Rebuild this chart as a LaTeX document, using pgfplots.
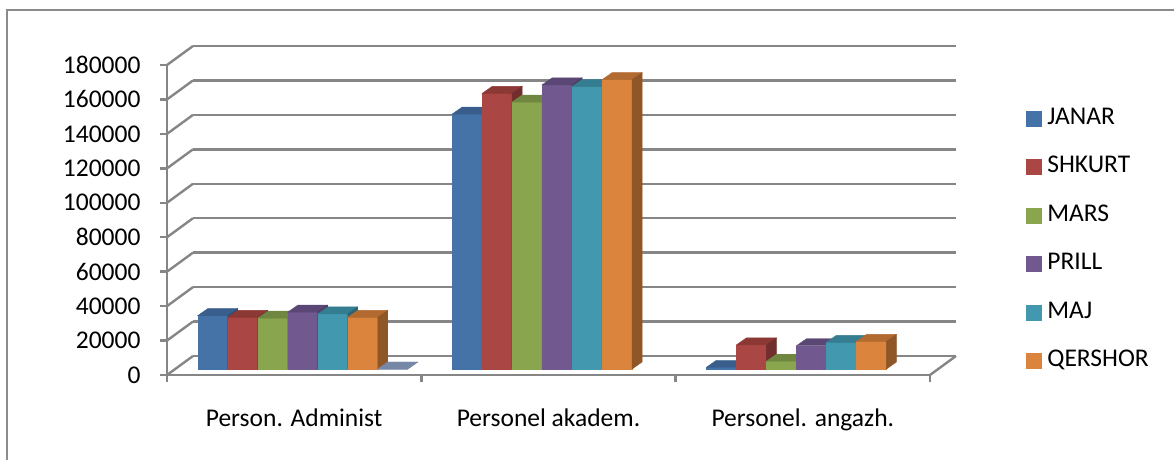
\documentclass[border=0pt]{standalone}
\usepackage{pgfplots}
\usepackage{pgfplotstable}
\pgfplotsset{compat=1.18}
\usepackage{fontspec}
\setmainfont{Carlito}

\definecolor{gridgray}{HTML}{868686}
\definecolor{framegray}{HTML}{8C8C8C}
\definecolor{janarF}{HTML}{4572A7}\definecolor{janarT}{HTML}{395E8C}\definecolor{janarS}{HTML}{2F4D74}
\definecolor{shkurtF}{HTML}{AA4643}\definecolor{shkurtT}{HTML}{8C3936}\definecolor{shkurtS}{HTML}{722E2C}
\definecolor{marsF}{HTML}{89A54E}\definecolor{marsT}{HTML}{6F8740}\definecolor{marsS}{HTML}{5B6E33}
\definecolor{prillF}{HTML}{71588F}\definecolor{prillT}{HTML}{5B4775}\definecolor{prillS}{HTML}{4B3A5F}
\definecolor{majF}{HTML}{4198AF}\definecolor{majT}{HTML}{357D90}\definecolor{majS}{HTML}{2B6574}
\definecolor{qershorF}{HTML}{DB843D}\definecolor{qershorT}{HTML}{B26A31}\definecolor{qershorS}{HTML}{8F5628}
\definecolor{extraT}{HTML}{7688A6}

% staff counts per month, one row per category
\pgfplotstableread{
cat janar  shkurt mars   prill  maj    qershor
0   31000  30000  29500  33000  32000  30000
1   148000 160000 155000 165000 164000 168000
2   1000   14000  4500   13500  15500  16000
}\staff
\pgfplotstableread{
cat extra
0   0
}\extra

\pgfdeclareplotmark{empty}{}

\tikzset{
  chartfont/.style={font=\fontsize{25.6}{30}\selectfont},
  gridline/.style={draw=gridgray, line width=2.4bp},
}

\pgfplotsset{
  % one series of 3-D columns: front, top, side colour, offset in the group
  column3d/.style n args={4}{
    scatter, only marks, mark=empty,
    visualization depends on={y \as \val},
    scatter/@pre marker code/.code={%
      \pgfscope
      \pgftransformxshift{#4}%
      \fill[#1] (-15bp,0pt) rectangle ([xshift=15bp]axis direction cs:0,-\val);
      \fill[#2] (-15bp,0pt) -- (15bp,0pt) -- (25bp,7bp) -- (-5bp,7bp) -- cycle;
      \fill[#3] (15bp,0pt) -- (25bp,7bp)
        -- ([xshift=25bp,yshift=7bp]axis direction cs:0,-\val)
        -- ([xshift=15bp]axis direction cs:0,-\val) -- cycle;
    },
    scatter/@post marker code/.code={\endpgfscope},
  },
  plane/.style={
    scale only axis, width=763bp, height=310bp, anchor=south west,
    xmin=-0.5, xmax=2.5, ymin=0, ymax=180000, clip=false,
  },
}

\begin{document}
\begin{tikzpicture}
\useasboundingbox (0,0) rectangle (1174bp,460bp);
\draw[framegray, line width=1.5bp] (7bp,-5bp) -- (7bp,450bp) -- (1180bp,450bp);

% back wall with its grid lines
\begin{axis}[plane, at={(193bp,104bp)},
  axis line style={draw=none}, tick style={draw=none},
  xtick=\empty,
  ytick={0,20000,40000,60000,80000,100000,120000,140000,160000,180000},
  scaled y ticks=false, yticklabels={,,,,,,,,,}, ymajorgrids,
  grid style={gridline}, major grid style={gridline}]
\end{axis}

% front plane: axes, ticks, side wall and legend
\begin{axis}[plane, at={(167bp,85bp)},
  axis x line*=bottom, axis y line*=left,
  x axis line style={gridline, -},
  y axis line style={gridline, -},
  tick align=outside, major tick length=7bp,
  tick style={gridline},
  ytick={0,20000,40000,60000,80000,100000,120000,140000,160000,180000},
  scaled y ticks=false,
  yticklabel style={chartfont, xshift=-16bp,
    /pgf/number format/assume math mode=true,
    /pgf/number format/fixed, /pgf/number format/1000 sep={}},
  xtick={-0.5,0.5,1.5,2.5}, xticklabels={,,,},
  extra x ticks={0,1,2},
  extra x tick labels={Person. Administ, Personel akadem., Personel. angazh.},
  extra x tick style={tick style={draw=none}},
  xticklabel style={chartfont, yshift=-23bp},
  legend cell align=left,
  legend style={at={(1.1258,0.867)}, anchor=north west, draw=none, fill=none,
    inner sep=0pt, chartfont, row sep=24.5bp,
    nodes={inner sep=0pt, text height=18bp, text depth=6bp}},
]
\pgfplotsinvokeforeach{0,20000,40000,60000,80000,100000,120000,140000,160000,180000}{
  \draw[gridline] (axis cs:-0.5,#1) -- ++(26bp,19bp);
}
\draw[gridline] (axis cs:2.5,0) -- ++(26bp,19bp);
\addlegendimage{legend image code/.code={\fill[janarF] (0bp,-7.5bp) rectangle (15bp,7.5bp);}}
\addlegendentry{~JANAR}
\addlegendimage{legend image code/.code={\fill[shkurtF] (0bp,-7.5bp) rectangle (15bp,7.5bp);}}
\addlegendentry{~SHKURT}
\addlegendimage{legend image code/.code={\fill[marsF] (0bp,-7.5bp) rectangle (15bp,7.5bp);}}
\addlegendentry{~MARS}
\addlegendimage{legend image code/.code={\fill[prillF] (0bp,-7.5bp) rectangle (15bp,7.5bp);}}
\addlegendentry{~PRILL}
\addlegendimage{legend image code/.code={\fill[majF] (0bp,-7.5bp) rectangle (15bp,7.5bp);}}
\addlegendentry{~MAJ}
\addlegendimage{legend image code/.code={\fill[qershorF] (0bp,-7.5bp) rectangle (15bp,7.5bp);}}
\addlegendentry{~QERSHOR}
\end{axis}

% the columns, standing a third of the way into the floor
\begin{axis}[plane, at={(175.6bp,91bp)}, hide axis]
\addplot[column3d={janarF}{janarT}{janarS}{-90bp}] table[x=cat, y=janar] {\staff};
\addplot[column3d={shkurtF}{shkurtT}{shkurtS}{-60bp}] table[x=cat, y=shkurt] {\staff};
\addplot[column3d={marsF}{marsT}{marsS}{-30bp}] table[x=cat, y=mars] {\staff};
\addplot[column3d={prillF}{prillT}{prillS}{0bp}] table[x=cat, y=prill] {\staff};
\addplot[column3d={majF}{majT}{majS}{30bp}] table[x=cat, y=maj] {\staff};
\addplot[column3d={qershorF}{qershorT}{qershorS}{60bp}] table[x=cat, y=qershor] {\staff};
\addplot[column3d={extraT}{extraT}{extraT}{90bp}] table[x=cat, y=extra] {\extra};
\end{axis}
\end{tikzpicture}
\end{document}
